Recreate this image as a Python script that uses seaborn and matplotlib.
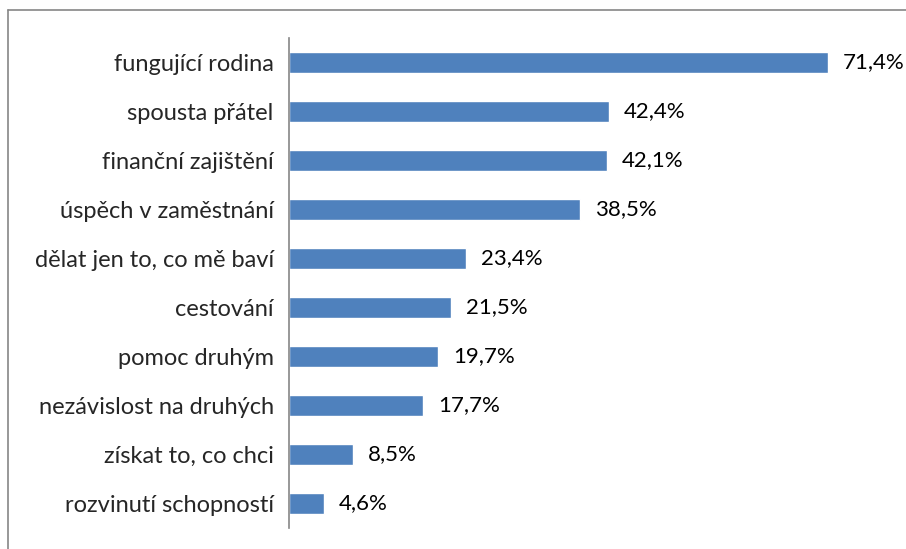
import matplotlib
matplotlib.use('Agg')
import matplotlib.pyplot as plt
import pandas as pd
import seaborn as sns
from matplotlib.lines import Line2D

categories = ['fungující rodina', 'spousta přátel', 'finanční zajištění', 'úspěch v zaměstnání',
              'dělat jen to, co mě baví', 'cestování', 'pomoc druhým', 'nezávislost na druhých',
              'získat to, co chci', 'rozvinutí schopností']
values = [71.4, 42.4, 42.1, 38.5, 23.4, 21.5, 19.7, 17.7, 8.5, 4.6]

df = pd.DataFrame({'Kategorie': categories, 'Podíl': values})

sns.set_style('white')
plt.rcParams['font.family'] = ['Lato', 'DejaVu Sans']

fig = plt.figure(figsize=(9.06, 5.49), dpi=100)
ax = fig.add_axes([289 / 906, 21 / 549, (893 - 289) / 906, (528 - 38) / 549])

sns.barplot(data=df, x='Podíl', y='Kategorie', ax=ax, color='#4F81BD', saturation=1,
            width=0.41, orient='h')

for i, v in enumerate(values):
    ax.text(v + 2.0, i, f'{v:.1f}%'.replace('.', ','), va='center', ha='left', fontsize=16, color='black')

ax.set_xlim(0, 80)
ax.set_xlabel('')
ax.set_ylabel('')
ax.set_xticks([])
ax.tick_params(axis='y', length=0, pad=11, labelsize=17)
for s in ['top', 'right', 'bottom']:
    ax.spines[s].set_visible(False)
ax.spines['left'].set_color('#868686')
ax.spines['left'].set_linewidth(1.2)

# chart frame (left + top edges)
fig.add_artist(Line2D([8 / 906, 8 / 906], [0, 1 - 10 / 549], transform=fig.transFigure, color='#868686', lw=1.2))
fig.add_artist(Line2D([8 / 906, 1], [1 - 10 / 549, 1 - 10 / 549], transform=fig.transFigure, color='#868686', lw=1.2))

fig.savefig('out.png', dpi=100)
